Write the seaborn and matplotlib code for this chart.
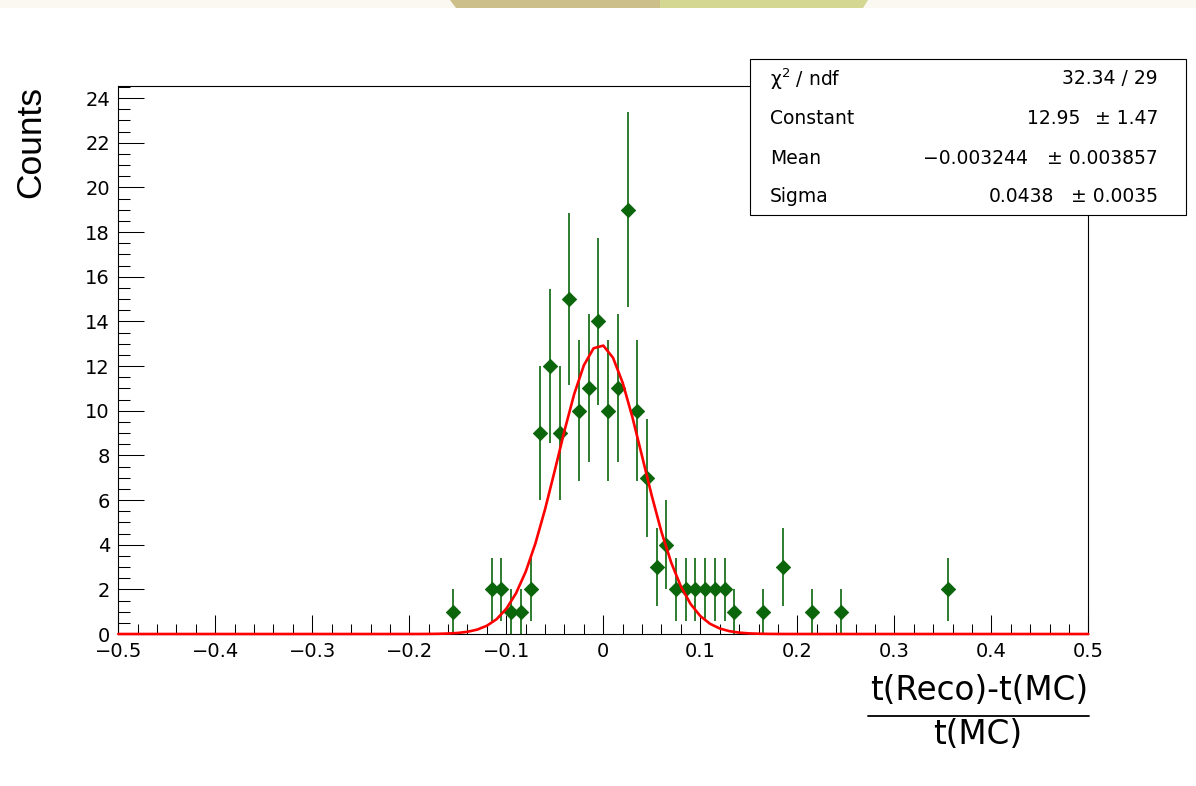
import numpy as np
import pandas as pd
import matplotlib
matplotlib.use("Agg")
import matplotlib.pyplot as plt
import seaborn as sns
from matplotlib.patches import Polygon, Rectangle
from matplotlib.lines import Line2D
from matplotlib.ticker import MultipleLocator

# ---------------- data ----------------
bin_centers = [-0.155, -0.115, -0.105, -0.095, -0.085, -0.075, -0.065, -0.055,
               -0.045, -0.035, -0.025, -0.015, -0.005, 0.005, 0.015, 0.025,
               0.035, 0.045, 0.055, 0.065, 0.075, 0.085, 0.095, 0.105,
               0.115, 0.125, 0.135, 0.165, 0.185, 0.215, 0.245, 0.355]
counts = [1, 2, 2, 1, 1, 2, 9, 12, 9, 15, 10, 11, 14, 10, 11, 19,
          10, 7, 3, 4, 2, 2, 2, 2, 2, 2, 1, 1, 3, 1, 1, 2]
count_errors = [1.0, 1.41, 1.41, 1.0, 1.0, 1.41, 3.0, 3.46, 3.0, 3.87, 3.16, 3.32,
                3.74, 3.16, 3.32, 4.36, 3.16, 2.65, 1.73, 2.0, 1.41, 1.41, 1.41,
                1.41, 1.41, 1.41, 1.0, 1.0, 1.73, 1.0, 1.0, 1.41]

# Gaussian fit parameters (stats box)
fit_constant = 12.95
fit_mean = -0.003244
fit_sigma = 0.0438

stat_labels = ["χ$^2$ / ndf", "Constant", "Mean", "Sigma"]
stat_values = ["32.34 / 29", "12.95", "\u22120.003244", "0.0438"]
stat_errors = ["", "± 1.47", "± 0.003857", "± 0.0035"]

x_ticks = [-0.5, -0.4, -0.3, -0.2, -0.1, 0, 0.1, 0.2, 0.3, 0.4, 0.5]
x_ticklabels = ["\u22120.5", "\u22120.4", "\u22120.3", "\u22120.2", "\u22120.1", "0",
                "0.1", "0.2", "0.3", "0.4", "0.5"]
y_ticks = [0, 2, 4, 6, 8, 10, 12, 14, 16, 18, 20, 22, 24]

# ---------------- style ----------------
sns.set_theme(style="white")
plt.rcParams["font.family"] = ["DejaVu Sans"]
plt.rcParams["mathtext.fontset"] = "dejavusans"
plt.rcParams["text.color"] = "black"
plt.rcParams["xtick.color"] = "black"
plt.rcParams["ytick.color"] = "black"
plt.rcParams["xtick.labelcolor"] = "black"
plt.rcParams["ytick.labelcolor"] = "black"

W, H = 1196, 786
fig = plt.figure(figsize=(W / 100, H / 100), dpi=100)
fig.patch.set_facecolor("white")

def fx(px):
    return px / W

def fy(py):
    return 1 - py / H

# decorative top strip from the screenshot
fig.patches.append(Rectangle((0, fy(8)), 1, 8 / H, transform=fig.transFigure,
                             facecolor="#fbf8f2", edgecolor="none", zorder=0))
fig.patches.append(Polygon([(fx(450), fy(0)), (fx(660), fy(0)), (fx(660), fy(8)), (fx(456), fy(8))],
                           closed=True, transform=fig.transFigure,
                           facecolor="#cdbf8a", edgecolor="none", zorder=1))
fig.patches.append(Polygon([(fx(660), fy(0)), (fx(868), fy(0)), (fx(863), fy(8)), (fx(660), fy(8))],
                           closed=True, transform=fig.transFigure,
                           facecolor="#d4d792", edgecolor="none", zorder=1))

ax_left, ax_right, ax_top, ax_bottom = 118.3, 1088.3, 86, 634
ax = fig.add_axes([fx(ax_left), fy(ax_bottom), (ax_right - ax_left) / W, (ax_bottom - ax_top) / H])
ax.set_facecolor("white")

green = "#0b660b"

df = pd.DataFrame({"x": bin_centers, "count": counts, "err": count_errors})
df["lo"] = df["count"] - df["err"]
df["hi"] = df["count"] + df["err"]

# error bars
ax.vlines(df["x"], df["lo"], df["hi"], color=green, linewidth=1.2, zorder=2)
# markers
sns.scatterplot(data=df, x="x", y="count", marker="D", s=52, color=green,
                edgecolor=green, linewidth=0.7, ax=ax, zorder=3, legend=False)

# fit curve
fit_x = np.linspace(-0.5, 0.5, 101)
fit_df = pd.DataFrame({"x": fit_x,
                       "y": fit_constant * np.exp(-0.5 * ((fit_x - fit_mean) / fit_sigma) ** 2)})
sns.lineplot(data=fit_df, x="x", y="y", color="#ff0000", linewidth=1.9, ax=ax,
             zorder=4, clip_on=False)

ax.set_xlim(-0.5, 0.5)
ax.set_ylim(0, 24.54)
ax.set_xticks(x_ticks)
ax.set_xticklabels(x_ticklabels)
ax.set_yticks(y_ticks)
ax.set_yticklabels([str(v) for v in y_ticks])
ax.xaxis.set_minor_locator(MultipleLocator(0.02))
ax.yaxis.set_minor_locator(MultipleLocator(0.5))
ax.tick_params(axis="x", which="major", direction="in", length=13.7, width=0.75,
               color="black", labelcolor="black", labelsize=14, pad=5.5, bottom=True, top=False)
ax.tick_params(axis="x", which="minor", direction="in", length=7.2, width=0.75,
               color="black", bottom=True, top=False)
ax.tick_params(axis="y", which="major", direction="in", length=18.5, width=0.75,
               color="black", labelcolor="black", labelsize=14, pad=6, left=True, right=False)
ax.tick_params(axis="y", which="minor", direction="in", length=8.6, width=0.75,
               color="black", left=True, right=False)
for s in ax.spines.values():
    s.set_visible(True)
    s.set_color("black")
    s.set_linewidth(0.8)
ax.set_xlabel("")
ax.set_ylabel("")

# y title
fig.text(fx(31), fy(86), "Counts", rotation=90, ha="center", va="top", fontsize=25.5,
         color="black", family=["Liberation Sans", "DejaVu Sans"])

# x title as a fraction
fig.text(fx(1088), fy(690), "t(Reco)-t(MC)", ha="right", va="center", fontsize=23.5, color="black")
fig.lines.append(Line2D([fx(868), fx(1089)], [fy(716), fy(716)], transform=fig.transFigure,
                        color="black", linewidth=1.3))
fig.text(fx(978), fy(734), "t(MC)", ha="center", va="center", fontsize=23.5, color="black")

# stats box
fig.patches.append(Rectangle((fx(750), fy(215)), 436 / W, 156 / H, transform=fig.transFigure,
                             facecolor="white", edgecolor="black", linewidth=0.8, zorder=5))
row_y = [79, 119, 159, 196]
value_right = [1158, 1080, 1028, 1054]
for lab, val, err, yy, vr in zip(stat_labels, stat_values, stat_errors, row_y, value_right):
    fig.text(fx(770), fy(yy), lab, ha="left", va="center", fontsize=13.5, color="black", zorder=6)
    fig.text(fx(vr), fy(yy), val, ha="right", va="center", fontsize=13.5, color="black", zorder=6)
    if err:
        fig.text(fx(1158), fy(yy), err, ha="right", va="center", fontsize=13.5, color="black", zorder=6)

fig.savefig("out.png", dpi=100)
